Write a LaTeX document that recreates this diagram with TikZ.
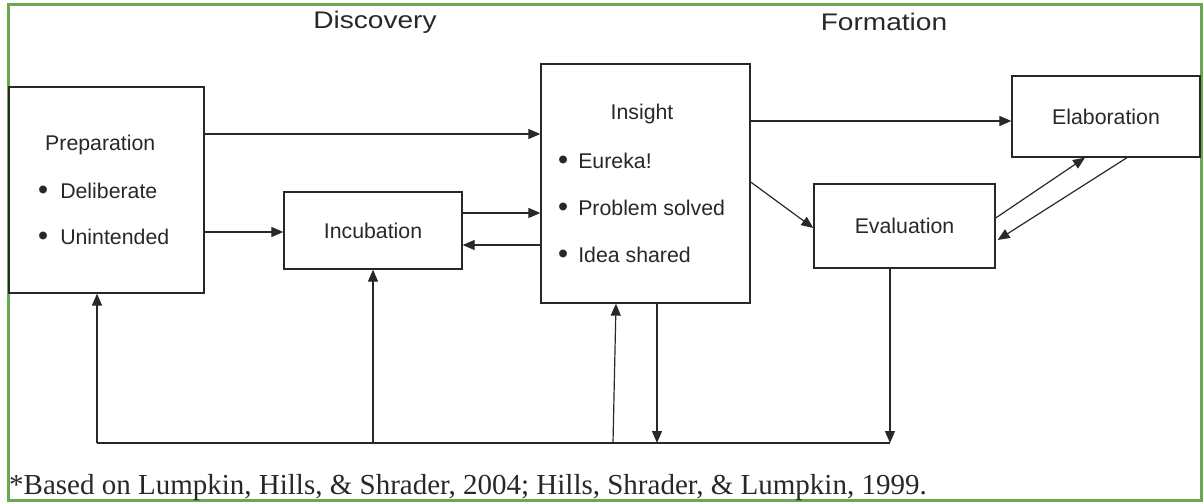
\documentclass[tikz,border=0pt]{standalone}
\usepackage{fontspec}
\setmainfont{Liberation Sans}
\newfontfamily\serifnote{Liberation Serif}
\usetikzlibrary{arrows.meta}
\definecolor{frame}{RGB}{106,168,79}
\definecolor{ink}{RGB}{40,40,40}
\newcommand{\bul}{\raisebox{-1.8pt}{\scalebox{1.35}{\textbullet}}}
\tikzset{
  stagebox/.style={draw=ink,line width=1.3pt,inner sep=0pt,minimum width=#1},
  lbl/.style={text=ink,font=\fontsize{21.3}{23}\selectfont,inner sep=0pt},
  head/.style={text=ink,font=\fontsize{24}{26}\selectfont,inner sep=0pt},
  arr/.style={draw=ink,line width=1.2pt,-{Triangle[length=12pt,width=10pt]}},
  ln/.style={draw=ink,line width=1.2pt},
}
\begin{document}
\begin{tikzpicture}[x=1pt,y=-1pt]
\useasboundingbox (0,0) rectangle (1203,503);
\draw[frame,line width=3pt] (8,5) rectangle (1201.5,500);

\node[head] (disc) at (375,22) {\scalebox{1.17}[1]{Discovery}};
\node[head] (form) at (884,22) {\scalebox{1.17}[1]{Formation}};

\node[stagebox=195pt,minimum height=206pt] (prep) at (106.5,190) {};
\node[stagebox=178pt,minimum height=77pt] (inc) at (373,230.5) {};
\node[stagebox=209pt,minimum height=239pt] (ins) at (645.5,183.5) {};
\node[stagebox=188pt,minimum height=81pt] (elab) at (1106,116.5) {};
\node[stagebox=181pt,minimum height=84pt] (eval) at (904.5,226) {};

\node[lbl,anchor=base west] (tprep) at (45,150) {Preparation};
\node[lbl,anchor=base west] (tdel) at (38,198) {\bul\hspace{12pt}Deliberate};
\node[lbl,anchor=base west] (tun) at (38,244) {\bul\hspace{12pt}Unintended};
\node[lbl] (tinc) at (inc.center) {Incubation};
\node[lbl,anchor=base] (tins) at (642,120) {Insight};
\node[lbl,anchor=base west] (teur) at (558,168) {\bul\hspace{10pt}Eureka!};
\node[lbl,anchor=base west] (tprob) at (558,215) {\bul\hspace{10pt}Problem solved};
\node[lbl,anchor=base west] (tidea) at (558,262) {\bul\hspace{10pt}Idea shared};
\node[lbl] (telab) at (elab.center) {Elaboration};
\node[lbl] (teval) at (eval.center) {Evaluation};

\node[text=ink,font=\serifnote\fontsize{29}{31}\selectfont,anchor=base west,inner sep=0pt] (note) at (9,494) {*Based on Lumpkin, Hills, \& Shrader, 2004; Hills, Shrader, \& Lumpkin, 1999.};

\draw[arr] (prep.east |- 0,134) -- (ins.west |- 0,134);
\draw[arr] (prep.east |- 0,232) -- (inc.west |- 0,232);
\draw[arr] (inc.east |- 0,213) -- (ins.west |- 0,213);
\draw[arr] (ins.west |- 0,245) -- (inc.east |- 0,245);
\draw[arr] (ins.east |- 0,121) -- (elab.west |- 0,121);
\draw[arr] (ins.east |- 0,182) -- (eval.west |- 0,228);
\draw[arr] (eval.east |- 0,218) -- (elab.south -| 1085,0);
\draw[arr] (elab.south -| 1127,0) -- ([xshift=2pt]eval.east |- 0,240);

\coordinate (bl) at (97,443);
\coordinate (bm1) at (373,443);
\coordinate (bm2) at (613,443);
\coordinate (bm3) at (657,443);
\coordinate (br) at (890,443);
\draw[ln] (bl) -- (br);
\draw[arr] (bl) -- (prep.south -| bl);
\draw[arr] (bm1) -- (inc.south -| bm1);
\draw[arr] (bm2) -- (ins.south -| 616,0);
\draw[arr] (ins.south -| bm3) -- (bm3);
\draw[arr] (eval.south -| br) -- (br);
\end{tikzpicture}
\end{document}
